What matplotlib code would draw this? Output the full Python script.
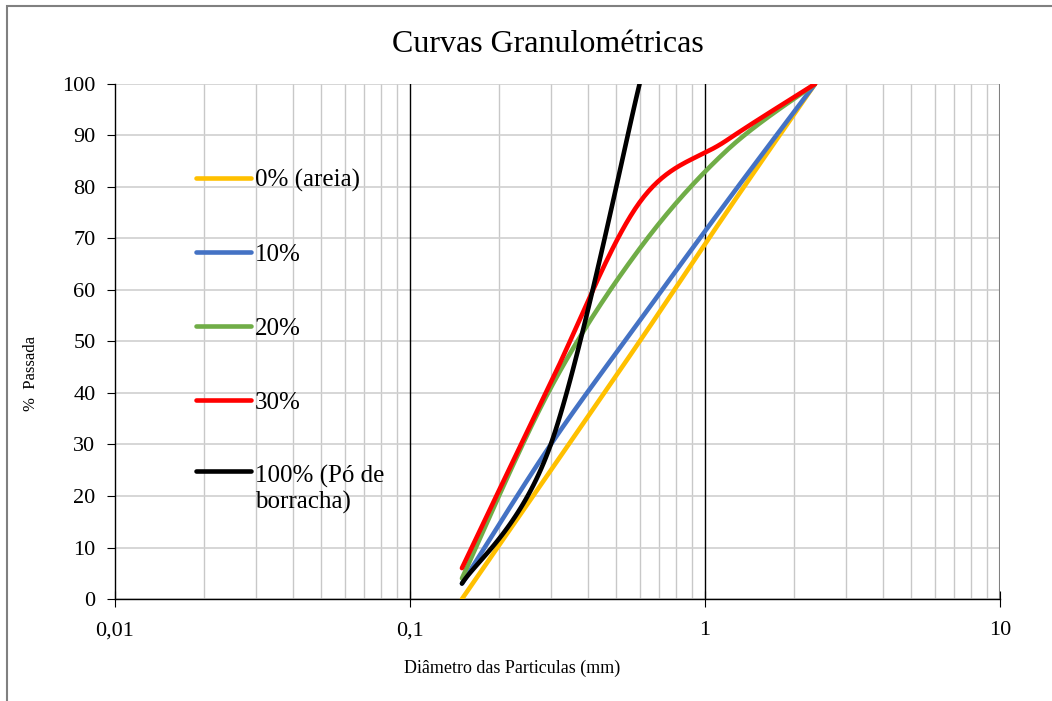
import numpy as np
import matplotlib.pyplot as plt
from matplotlib.patches import Rectangle

plt.rcParams['font.family'] = ['Liberation Serif', 'DejaVu Serif']

# Peneiras (mm) e % passada
peneiras = [0.15, 0.3, 0.6, 1.18, 2.36]
areia_0 = [0, 25, 50, 75, 100]
mist_10 = [3, 30, 54, 77, 100]
mist_20 = [4, 41, 68, 87, 100]
mist_30 = [6, 42, 77, 89, 100]
peneiras_borracha = [0.15, 0.3, 0.6]
borracha_100 = [3, 30, 100]

series = [
    ("0% (areia)", peneiras, areia_0, "#FFC000"),
    ("10%", peneiras, mist_10, "#4472C4"),
    ("20%", peneiras, mist_20, "#70AD47"),
    ("30%", peneiras, mist_30, "#FF0000"),
    ("100% (Pó de\nborracha)", peneiras_borracha, borracha_100, "#000000"),
]


def suavizar(x, y, n=40):
    # linha suavizada estilo Excel (bezier) no espaço log
    lx = np.log10(np.asarray(x, float))
    y = np.asarray(y, float)
    P = np.column_stack([lx, y])
    pts = []
    for i in range(len(P) - 1):
        p0 = P[i - 1] if i > 0 else P[i]
        p3 = P[i + 2] if i + 2 < len(P) else P[i + 1]
        c1 = P[i] + (P[i + 1] - p0) / 6
        c2 = P[i + 1] - (p3 - P[i]) / 6
        t = np.linspace(0, 1, n)[:, None]
        seg = ((1 - t) ** 3 * P[i] + 3 * (1 - t) ** 2 * t * c1
               + 3 * (1 - t) * t ** 2 * c2 + t ** 3 * P[i + 1])
        pts.append(seg)
    pts = np.vstack(pts)
    return 10 ** pts[:, 0], pts[:, 1]


fig = plt.figure(figsize=(10.52, 7.01), dpi=100)
ax = fig.add_axes([0.1093, 0.1455, 0.8413, 0.7347])

# moldura do gráfico
fig.patches.append(Rectangle((7 / 1052, -0.1), 1.2, 1 - 6 / 701 + 0.1,
                             transform=fig.transFigure, fill=False,
                             edgecolor="#808080", linewidth=1.5))

for nome, x, y, cor in series:
    xs, ys = suavizar(x, y)
    ax.plot(xs, ys, color=cor, linewidth=3.3, label=nome,
            solid_capstyle="round", zorder=3)

ax.set_xscale("log")
ax.set_xlim(0.01, 10)
ax.set_ylim(0, 100)
ax.set_yticks(range(0, 101, 10))
ax.set_xticks([0.01, 0.1, 1, 10])
ax.set_xticklabels(["0,01", "0,1", "1", "10"])
ax.minorticks_on()
ax.tick_params(axis="y", which="minor", left=False)
ax.tick_params(axis="x", which="minor", length=0)
ax.tick_params(axis="x", which="major", direction="inout", length=12, labelsize=16, pad=10)
ax.tick_params(axis="y", which="major", direction="out", length=6, labelsize=16, pad=8)

ax.grid(True, axis="y", which="major", color="#D0D0D0", linewidth=1.2)
ax.grid(True, axis="x", which="minor", color="#C8C8C8", linewidth=1.0)
for v in [0.1, 1]:
    ax.axvline(v, color="black", linewidth=1.0, zorder=2)
ax.axvline(10, color="#808080", linewidth=1.5, zorder=2)

for s in ["top", "right"]:
    ax.spines[s].set_visible(False)
ax.spines["left"].set_linewidth(1.0)
ax.spines["bottom"].set_linewidth(1.0)

fig.text(0.521, 1 - 44 / 701, "Curvas Granulométricas", ha="center", va="center", fontsize=23)
fig.text(512 / 1052, 1 - 668 / 701, "Diâmetro das Particulas (mm)",
         ha="center", va="center", fontsize=13)
fig.text(31 / 1052, 1 - 374 / 701, "%  Passada", ha="center", va="center",
         rotation=90, fontsize=12)

leg = ax.legend(loc="upper left", bbox_to_anchor=(0.0805, 0.854), frameon=False,
                fontsize=18, handlelength=2.2, handletextpad=0.15, labelspacing=2.05,
                borderaxespad=0)
# alinhar a linha da última entrada com a primeira linha do texto
h = leg.legend_handles[-1]
h.set_ydata(np.asarray(h.get_ydata()) + 13.5)

fig.savefig("out.png", dpi=100, facecolor="white")
